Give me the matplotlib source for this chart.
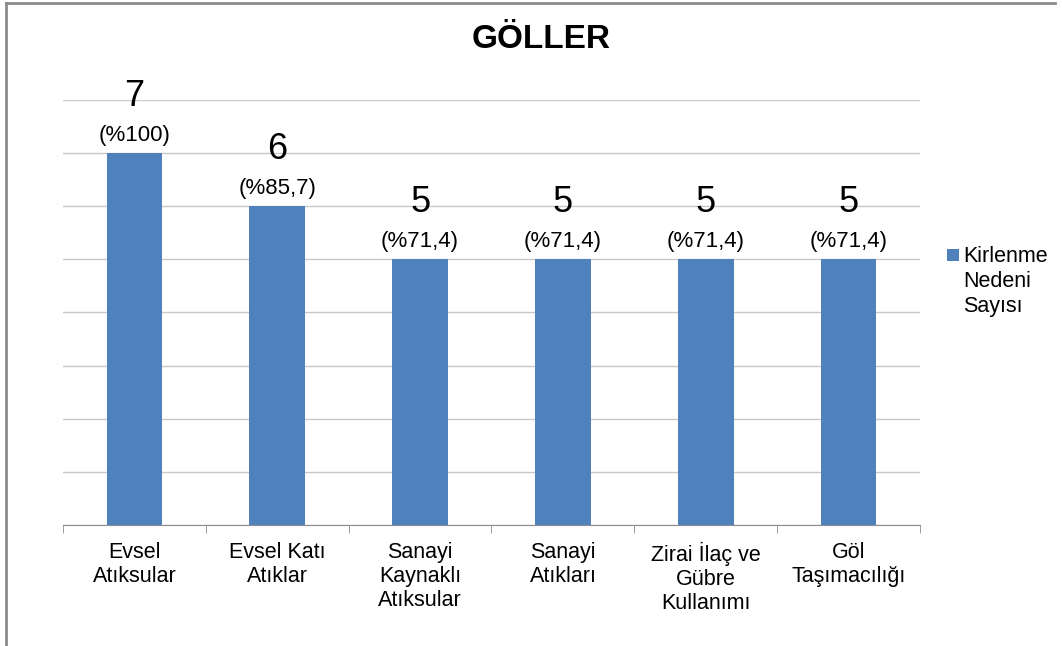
import matplotlib
matplotlib.use("Agg")
import matplotlib.pyplot as plt
from matplotlib.lines import Line2D
from matplotlib.patches import Rectangle

categories = ["Evsel\nAtıksular", "Evsel Katı\nAtıklar", "Sanayi\nKaynaklı\nAtıksular",
              "Sanayi\nAtıkları", "Zirai İlaç ve\nGübre\nKullanımı", "Göl\nTaşımacılığı"]
values = [7, 6, 5, 5, 5, 5]
percent_labels = ["(%100)", "(%85,7)", "(%71,4)", "(%71,4)", "(%71,4)", "(%71,4)"]
series_name = "Kirlenme\nNedeni\nSayısı"
title = "GÖLLER"

plt.rcParams['font.family'] = ['Liberation Sans', 'DejaVu Sans']

W, H = 1062, 646
fig = plt.figure(figsize=(W / 100, H / 100), dpi=100)
ax = fig.add_axes([63 / W, 1 - 525 / H, (920 - 63) / W, (525 - 100) / H])

bar_color = "#4F81BD"
x = list(range(len(values)))
ax.bar(x, values, width=0.39, color=bar_color, zorder=3)
ax.set_xlim(-0.5, len(values) - 0.5)
ax.set_ylim(0, 8)
ax.set_yticks(range(0, 9))
ax.yaxis.grid(True, color="#C8C8C8", linewidth=1)
ax.tick_params(axis='y', length=0, labelleft=False)
for s in ["top", "right", "left"]:
    ax.spines[s].set_visible(False)
ax.spines["bottom"].set_color("#8C8C8C")
ax.set_xticks(x)
ax.set_xticklabels(categories, fontsize=15.5, linespacing=1.2)
ax.tick_params(axis='x', length=0, pad=12)
# category boundary ticks
ax.set_xticks([i - 0.5 for i in range(len(values) + 1)], minor=True)
ax.tick_params(axis='x', which='minor', length=6, color="#8C8C8C", direction='out')

for xi, v, p in zip(x, values, percent_labels):
    ax.annotate(str(v), (xi, v), xytext=(0, 57), textcoords='offset pixels',
                ha='center', va='center', fontsize=26)
    ax.annotate(p, (xi, v), xytext=(0, 18), textcoords='offset pixels',
                ha='center', va='center', fontsize=16)

fig.text(541 / W, 1 - 40 / H, title, ha='center', va='center', fontsize=24, fontweight='bold')

# legend (square marker beside the first line of the multi-line label)
fig.add_artist(Rectangle((947 / W, 1 - 261 / H), 12 / W, 12 / H, transform=fig.transFigure,
                         facecolor=bar_color, edgecolor='none'))
fig.text(963 / W, 1 - 246 / H, series_name, ha='left', va='top', fontsize=15.5, linespacing=1.25)

# chart frame (top and left visible)
fig.add_artist(Line2D([6 / W, 6 / W], [0, 1 - 3 / H], color="#8C8C8C", linewidth=2))
fig.add_artist(Line2D([6 / W, 1055 / W], [1 - 3 / H, 1 - 3 / H], color="#8C8C8C", linewidth=2))

fig.savefig("out.png", dpi=100)
